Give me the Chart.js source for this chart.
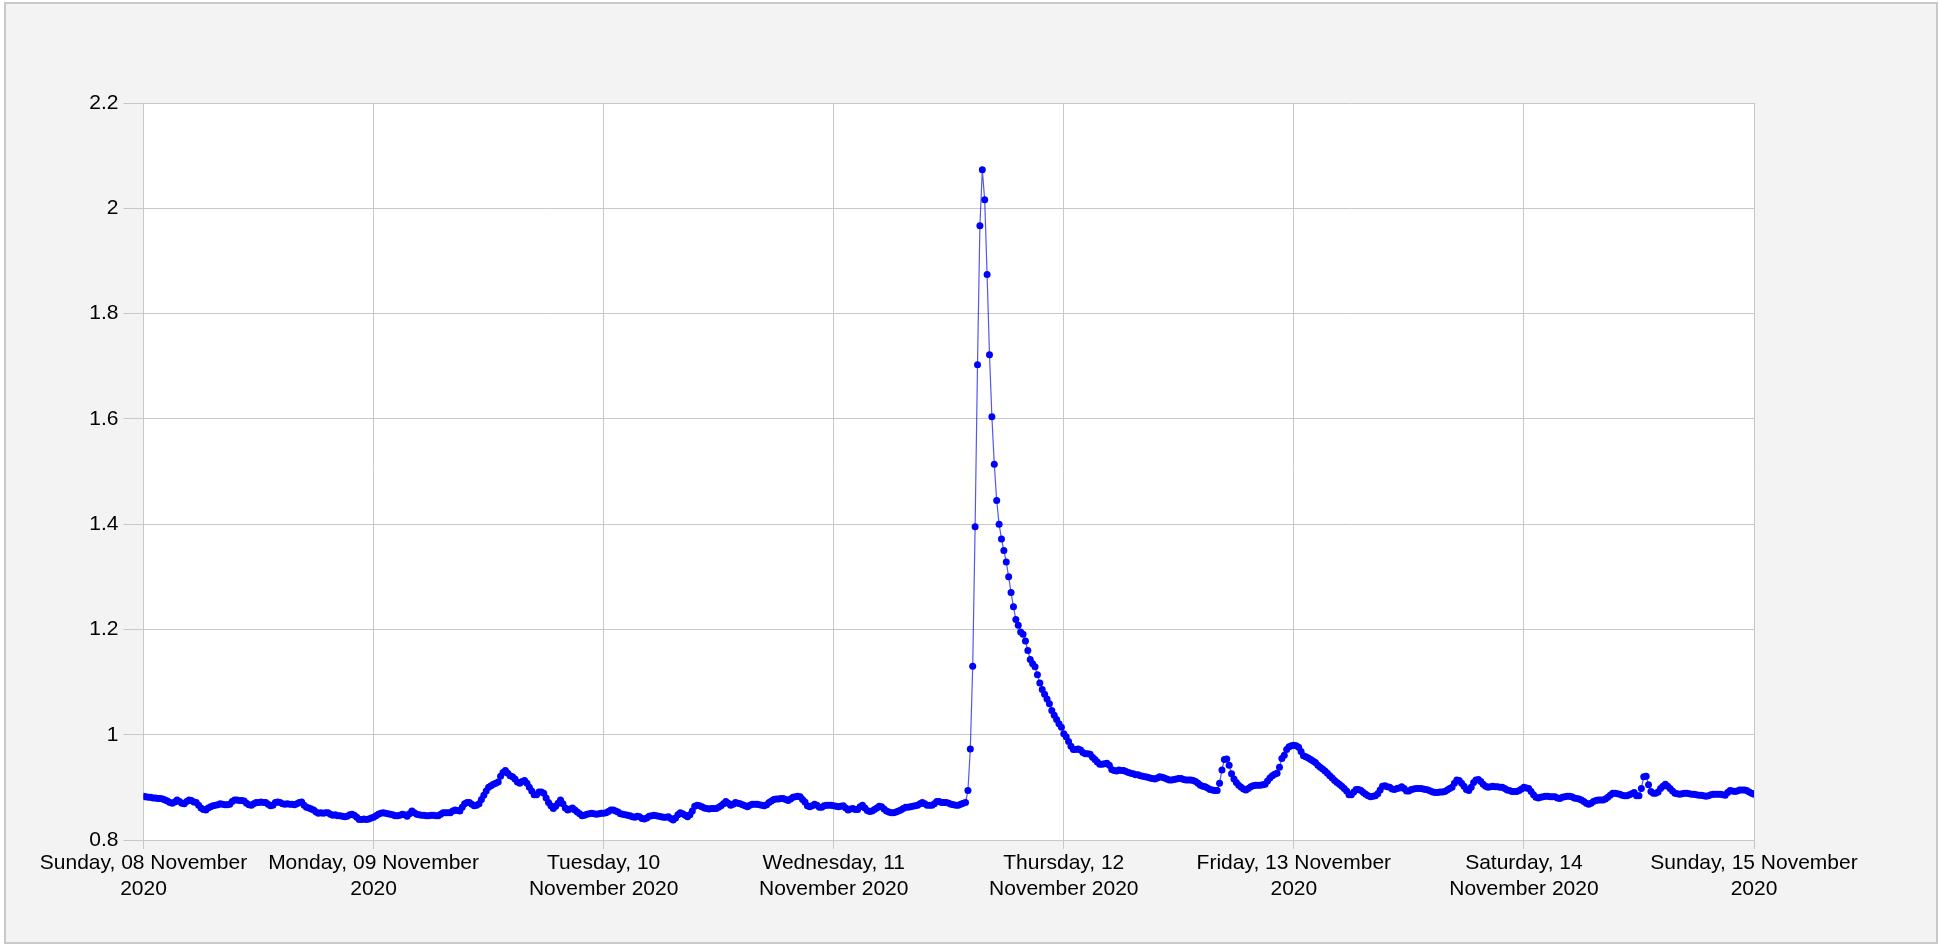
<!DOCTYPE html>
<html>
<head>
<meta charset="utf-8">
<script src="https://cdn.jsdelivr.net/npm/chart.js@4.4.0/dist/chart.umd.min.js"></script>
<style>
  html, body { margin: 0; padding: 0; background: #ffffff; }
  #frame {
    position: absolute; left: 4px; top: 2px; width: 1930px; height: 938px;
    background: #f3f3f3; border: 2px solid #c9c9c9;
  }
  #myChart { position: absolute; left: 0; top: 0; }
</style>
</head>
<body>
<div id="frame"></div>
<canvas id="myChart" width="1939" height="944"></canvas>
<script>
// 15 minute readings, one array per day
const sun08 = [
  0.883,0.882,0.881,0.881,0.880,0.880,0.879,0.879,0.878,0.876,0.874,0.871,
  0.870,0.872,0.876,0.873,0.870,0.869,0.873,0.876,0.875,0.872,0.871,0.866,
  0.861,0.858,0.857,0.861,0.863,0.865,0.866,0.867,0.869,0.868,0.867,0.867,
  0.868,0.873,0.876,0.876,0.875,0.875,0.874,0.870,0.867,0.866,0.869,0.871,
  0.871,0.872,0.871,0.871,0.868,0.865,0.866,0.871,0.872,0.871,0.869,0.868,
  0.869,0.868,0.868,0.867,0.869,0.871,0.872,0.866,0.862,0.861,0.859,0.857,
  0.853,0.851,0.852,0.851,0.852,0.852,0.849,0.847,0.848,0.846,0.846,0.845,
  0.844,0.845,0.848,0.849,0.847,0.843,0.839,0.839,0.840,0.839,0.840,0.842
];
const mon09 = [
  0.843,0.846,0.849,0.851,0.852,0.851,0.850,0.849,0.848,0.846,0.846,0.847,
  0.849,0.848,0.845,0.850,0.855,0.852,0.849,0.848,0.847,0.847,0.846,0.846,
  0.847,0.847,0.846,0.846,0.849,0.852,0.852,0.852,0.852,0.855,0.857,0.856,
  0.855,0.862,0.869,0.871,0.871,0.868,0.865,0.866,0.869,0.877,0.885,0.893,
  0.900,0.903,0.906,0.908,0.910,0.921,0.928,0.932,0.927,0.922,0.920,0.916,
  0.910,0.908,0.911,0.913,0.908,0.900,0.893,0.886,0.886,0.891,0.891,0.889,
  0.880,0.871,0.865,0.860,0.864,0.870,0.876,0.869,0.861,0.857,0.859,0.861,
  0.857,0.853,0.850,0.846,0.847,0.849,0.850,0.851,0.850,0.849,0.850,0.851
];
const tue10 = [
  0.851,0.852,0.854,0.857,0.857,0.855,0.853,0.850,0.849,0.848,0.847,0.846,
  0.844,0.843,0.845,0.844,0.841,0.840,0.842,0.845,0.846,0.847,0.846,0.845,
  0.844,0.843,0.843,0.844,0.841,0.838,0.842,0.848,0.852,0.850,0.847,0.844,
  0.848,0.855,0.864,0.866,0.865,0.863,0.861,0.860,0.859,0.860,0.860,0.860,
  0.862,0.865,0.869,0.873,0.870,0.866,0.868,0.871,0.870,0.869,0.867,0.865,
  0.863,0.866,0.868,0.868,0.868,0.867,0.866,0.865,0.867,0.871,0.874,0.877,
  0.878,0.878,0.879,0.879,0.877,0.875,0.878,0.881,0.882,0.883,0.882,0.877,
  0.872,0.865,0.863,0.865,0.868,0.866,0.862,0.862,0.865,0.866,0.866,0.866
];
const wed11 = [
  0.865,0.864,0.863,0.864,0.865,0.861,0.857,0.859,0.860,0.858,0.858,0.863,
  0.866,0.861,0.856,0.854,0.855,0.858,0.861,0.864,0.863,0.859,0.855,0.853,
  0.852,0.852,0.853,0.855,0.857,0.860,0.862,0.862,0.863,0.864,0.865,0.866,
  0.869,0.871,0.869,0.866,0.866,0.866,0.869,0.873,0.873,0.871,0.871,0.871,
  0.870,0.868,0.867,0.866,0.866,0.868,0.870,0.871,0.894,0.973,1.130,1.395,
  1.703,1.967,2.073,2.016,1.874,1.722,1.604,1.514,1.445,1.400,1.372,1.350,
  1.328,1.300,1.270,1.243,1.219,1.208,1.195,1.191,1.178,1.160,1.143,1.135,
  1.129,1.114,1.098,1.086,1.077,1.068,1.059,1.046,1.037,1.029,1.021,1.014
];
const thu12 = [
  1.002,0.996,0.987,0.978,0.972,0.972,0.973,0.971,0.966,0.964,0.964,0.963,
  0.957,0.953,0.948,0.944,0.944,0.945,0.946,0.942,0.934,0.932,0.931,0.933,
  0.932,0.932,0.930,0.928,0.927,0.926,0.924,0.924,0.922,0.921,0.920,0.919,
  0.918,0.917,0.916,0.918,0.920,0.919,0.918,0.916,0.914,0.914,0.915,0.916,
  0.917,0.917,0.915,0.914,0.914,0.914,0.913,0.911,0.908,0.904,0.902,0.901,
  0.899,0.896,0.895,0.894,0.894,0.908,0.933,0.953,0.954,0.942,0.926,0.916,
  0.909,0.904,0.900,0.897,0.895,0.898,0.901,0.903,0.904,0.904,0.904,0.905,
  0.906,0.912,0.918,0.922,0.925,0.927,0.938,0.955,0.961,0.972,0.977,0.979
];
const fri13 = [
  0.980,0.979,0.976,0.968,0.960,0.958,0.956,0.953,0.950,0.947,0.942,0.938,
  0.935,0.931,0.927,0.922,0.918,0.913,0.909,0.906,0.902,0.898,0.893,0.886,
  0.886,0.891,0.896,0.896,0.894,0.890,0.887,0.884,0.882,0.883,0.884,0.888,
  0.895,0.902,0.903,0.901,0.900,0.897,0.896,0.898,0.899,0.901,0.898,0.893,
  0.893,0.896,0.897,0.898,0.898,0.898,0.897,0.896,0.895,0.893,0.891,0.890,
  0.890,0.891,0.891,0.892,0.895,0.898,0.900,0.908,0.914,0.913,0.908,0.902,
  0.896,0.894,0.900,0.909,0.914,0.915,0.911,0.906,0.902,0.900,0.901,0.902,
  0.901,0.901,0.900,0.900,0.898,0.895,0.894,0.892,0.892,0.892,0.894,0.897
];
const sat14 = [
  0.900,0.899,0.898,0.892,0.886,0.881,0.880,0.881,0.882,0.883,0.883,0.882,
  0.882,0.882,0.880,0.879,0.881,0.882,0.883,0.883,0.882,0.880,0.879,0.878,
  0.876,0.873,0.870,0.868,0.870,0.873,0.875,0.876,0.876,0.876,0.878,0.881,
  0.885,0.889,0.889,0.888,0.887,0.885,0.884,0.884,0.886,0.888,0.890,0.884,
  0.884,0.898,0.920,0.921,0.905,0.892,0.889,0.889,0.891,0.898,0.902,0.906,
  0.902,0.898,0.893,0.889,0.888,0.887,0.888,0.889,0.889,0.888,0.887,0.887,
  0.886,0.885,0.885,0.884,0.883,0.884,0.886,0.887,0.887,0.887,0.887,0.886,
  0.885,0.890,0.894,0.893,0.892,0.893,0.895,0.895,0.895,0.894,0.891,0.889
];
const sun15 = [0.887];

const dayLabels = [
  ['Sunday, 08 November', '2020'],
  ['Monday, 09 November', '2020'],
  ['Tuesday, 10', 'November 2020'],
  ['Wednesday, 11', 'November 2020'],
  ['Thursday, 12', 'November 2020'],
  ['Friday, 13 November', '2020'],
  ['Saturday, 14', 'November 2020'],
  ['Sunday, 15 November', '2020']
];
const pointsPerDay = 96;

var myChart;

window.addEventListener('load', function(){
  drawChart();
});

function drawChart(){
  let values = [].concat(sun08, mon09, tue10, wed11, thu12, fri13, sat14, sun15);
  let points = [];
  for(var i = 0; i < values.length; i++){
    points.push({x: i, y: values[i]});
  }

  const plotBg = {
    id: 'plotBg',
    beforeDraw: function(chart){
      const a = chart.chartArea;
      chart.ctx.save();
      chart.ctx.fillStyle = '#ffffff';
      chart.ctx.fillRect(a.left, a.top, a.right - a.left, a.bottom - a.top);
      chart.ctx.restore();
    }
  };

  const font = {family: "'Liberation Sans', Arial, sans-serif", size: 21};

  const config = {
    type: 'line',
    data: {
      datasets: [{
        data: points,
        borderColor: 'rgba(30, 30, 230, 0.75)',
        borderWidth: 1.2,
        pointRadius: 3.5,
        pointBorderWidth: 0,
        pointBackgroundColor: '#0000ff',
        tension: 0
      }]
    },
    options: {
      responsive: false,
      devicePixelRatio: 1,
      animation: false,
      layout: {padding: {top: 103, right: 185, left: 0, bottom: 0}},
      plugins: {legend: {display: false}, tooltip: {enabled: false}},
      scales: {
        x: {
          type: 'linear',
          min: 0,
          max: 672,
          afterFit: function(s){ s.height = 104; },
          grid: {color: '#c8c8c8', tickLength: 9, tickColor: '#c8c8c8'},
          border: {color: '#c8c8c8'},
          ticks: {
            stepSize: pointsPerDay,
            autoSkip: false,
            maxRotation: 0,
            padding: 2,
            color: '#000',
            font: font,
            callback: function(v){ return dayLabels[Math.round(v / pointsPerDay)]; }
          }
        },
        y: {
          min: 0.8,
          max: 2.2,
          afterFit: function(s){ s.width = 143.5; },
          grid: {color: '#c8c8c8', tickLength: 20, tickColor: '#c8c8c8'},
          border: {color: '#c8c8c8'},
          ticks: {
            stepSize: 0.2,
            padding: 5,
            color: '#000',
            font: font,
            callback: function(v){ return String(Math.round(v * 10) / 10); }
          }
        }
      }
    },
    plugins: [plotBg]
  };

  myChart = new Chart(document.getElementById('myChart'), config);
}
</script>
</body>
</html>
